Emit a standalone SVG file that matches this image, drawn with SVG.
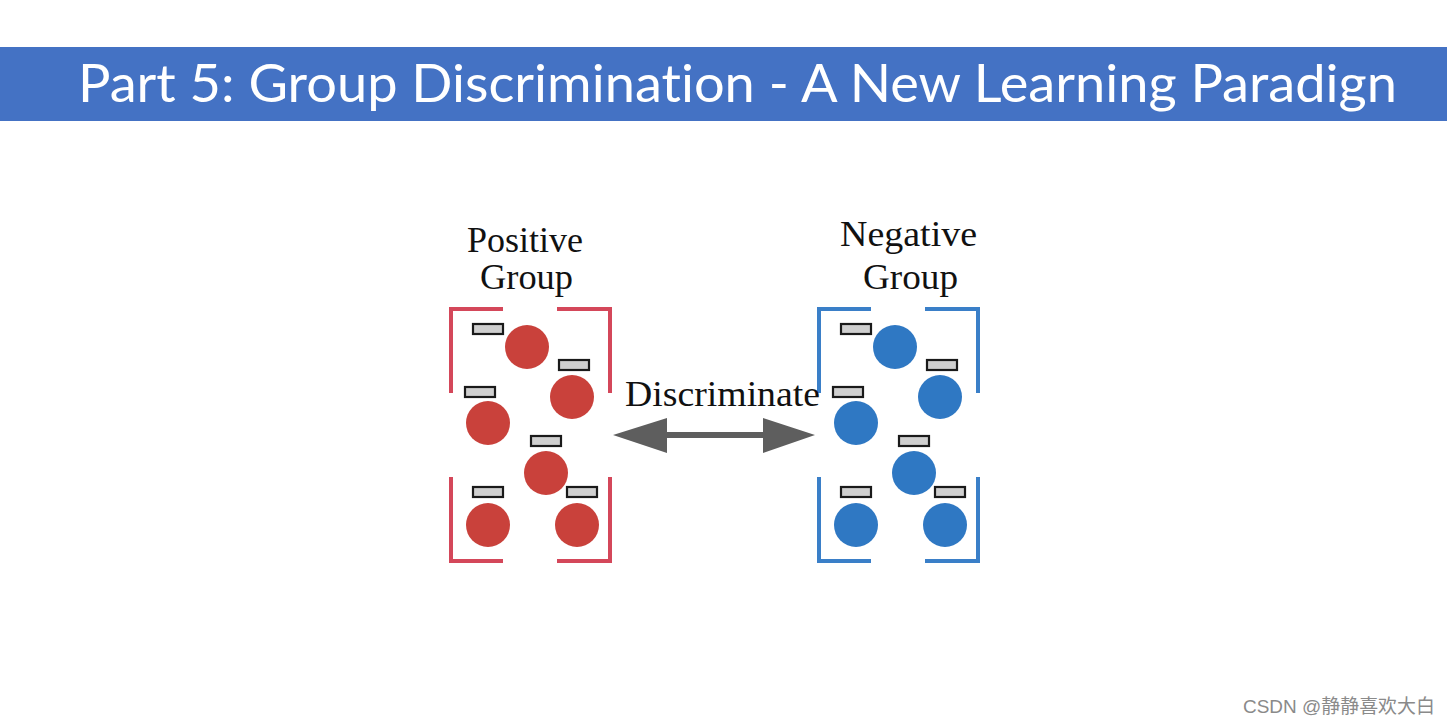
<svg xmlns="http://www.w3.org/2000/svg" width="1447" height="725" viewBox="0 0 1447 725">
<style>
.lbl{font-family:"Liberation Serif","Times New Roman",serif;font-size:35px;fill:#111;}
.tag{fill:#cfcfcf;stroke:#1a1a1a;stroke-width:2.2;}
.rb{fill:none;stroke:#d4475a;stroke-width:4;}
.bb{fill:none;stroke:#3a7fc8;stroke-width:4;}
.rc{fill:#c9413b;}
.bc{fill:#2f78c3;}
</style>
<defs>
<g id="tags">
<rect class="tag" x="473" y="324" width="30" height="10"/>
<rect class="tag" x="559" y="360" width="30" height="10"/>
<rect class="tag" x="465" y="387" width="30" height="10"/>
<rect class="tag" x="531" y="436" width="30" height="10"/>
<rect class="tag" x="473" y="487" width="30" height="10"/>
<rect class="tag" x="567" y="487" width="30" height="10"/>
</g>
<g id="brackets">
<path d="M503,309 H451 V393 M557,309 H610 V393 M451,477 V561 H503 M610,477 V561 H557"/>
</g>
</defs>
<rect x="0" y="0" width="1447" height="725" fill="#ffffff"/>
<g id="title">
<rect x="0" y="47" width="1447" height="74" fill="#4472c4"/>
<text x="78" y="102" font-family="Lato,'Open Sans',sans-serif" font-size="52" fill="#ffffff" style="font-variant-ligatures:none" textLength="1319" lengthAdjust="spacingAndGlyphs">Part 5: Group Discrimination - A New Learning Paradign</text>
</g>
<g id="positive-group">
<text class="lbl" x="467" y="252" textLength="116" lengthAdjust="spacingAndGlyphs">Positive</text>
<text class="lbl" x="480" y="289" textLength="93" lengthAdjust="spacingAndGlyphs">Group</text>
<use href="#brackets" class="rb"/>
<circle class="rc" cx="527" cy="347" r="22"/>
<circle class="rc" cx="572" cy="397" r="22"/>
<circle class="rc" cx="488" cy="423" r="22"/>
<circle class="rc" cx="546" cy="473" r="22"/>
<circle class="rc" cx="488" cy="525" r="22"/>
<circle class="rc" cx="577" cy="525" r="22"/>
<use href="#tags"/>
</g>
<g id="negative-group">
<text class="lbl" x="840" y="246" textLength="137" lengthAdjust="spacingAndGlyphs">Negative</text>
<text class="lbl" x="863" y="289" textLength="95" lengthAdjust="spacingAndGlyphs">Group</text>
<g transform="translate(368,0)">
<use href="#brackets" class="bb"/>
<circle class="bc" cx="527" cy="347" r="22"/>
<circle class="bc" cx="572" cy="397" r="22"/>
<circle class="bc" cx="488" cy="423" r="22"/>
<circle class="bc" cx="546" cy="473" r="22"/>
<circle class="bc" cx="488" cy="525" r="22"/>
<circle class="bc" cx="577" cy="525" r="22"/>
<use href="#tags"/>
</g>
</g>
<g id="connectors">
<path d="M613,435 L667,418 L667,432 L763,432 L763,418 L815,435 L763,453 L763,438 L667,438 L667,453 Z" fill="#5e5e5e"/>
<text class="lbl" x="625" y="406" textLength="195" lengthAdjust="spacingAndGlyphs">Discriminate</text>
</g>
<g id="watermark">
<text x="1243" y="713" font-family="'Liberation Sans','Noto Sans CJK SC',sans-serif" font-size="19" fill="#8a8a8a" textLength="192" lengthAdjust="spacingAndGlyphs">CSDN @静静喜欢大白</text>
</g>
</svg>
